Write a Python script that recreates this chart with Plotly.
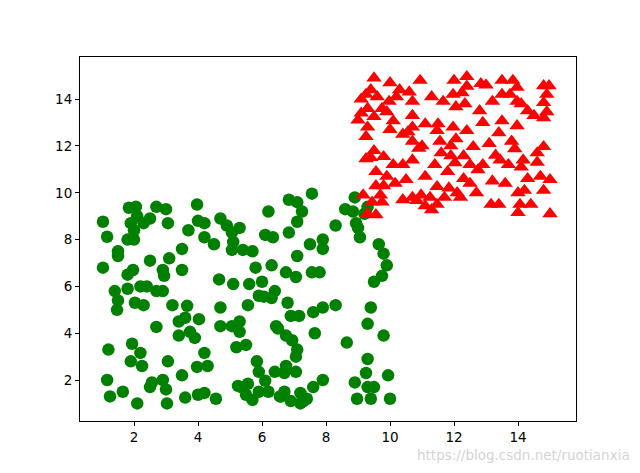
import plotly.graph_objects as go

# Green class (circles)
green_x = [1.03, 1.16, 1.03, 1.5, 1.5, 1.4, 1.5, 1.47, 1.2, 1.16, 1.25, 1.65, 1.8, 1.8, 1.97,
           1.8, 1.9, 1.84, 2.06, 2.1, 2.0, 2.0, 2.3, 2.5, 2.7, 3.0, 3.06, 2.5, 2.9, 2.94,
           3.1, 3.5, 3.5, 3.7, 3.97, 4.0, 4.2, 4.2, 4.5, 4.7, 4.9, 5.06, 5.1, 5.06, 5.3,
           5.4, 5.7, 6.2, 6.1, 6.34, 6.84, 6.84, 7.1, 7.25, 7.56, 7.1, 7.1, 7.5, 7.9, 7.9,
           8.3, 8.6, 8.84, 8.94, 9.0, 9.06, 8.9, 9.2, 9.3, 9.65, 9.8, 9.9, 9.75, 9.5, 9.4,
           9.3, 9.8, 8.65, 9.3, 9.25, 8.9, 9.3, 9.5, 9.94, 10.0, 8.97, 9.4, 8.3, 7.9, 7.65,
           7.6, 7.56, 7.8, 6.75, 7.06, 6.3, 5.8, 6.0, 6.06, 6.3, 6.4, 5.9, 5.56, 5.6, 5.1,
           4.66, 5.06, 5.3, 5.3, 5.2, 6.44, 6.8, 6.9, 7.16, 6.75, 6.94, 7.1, 6.75, 7.06, 6.7,
           7.06, 7.2, 7.2, 7.4, 7.9, 7.6, 6.7, 6.56, 6.1, 5.84, 5.9, 5.9, 5.7, 5.5, 5.4,
           5.56, 4.56, 4.2, 4.0, 4.2, 4.3, 3.97, 3.9, 3.75, 4.03, 3.6, 3.4, 3.66, 3.2, 2.9,
           2.7, 2.4, 2.3, 2.03, 2.7, 3.4, 4.7, 4.7, 3.5, 3.6, 3.06, 2.9, 3.0, 2.56, 2.5,
           2.25, 2.2, 1.94, 1.9, 2.1, 3.03, 5.25, 6.4, 6.6, 6.9, 7.3, 6.2, 5.5, 6.5, 2.2]
green_y = [8.76, 8.12, 6.8, 7.5, 7.3, 5.8, 5.4, 5.0, 3.3, 2.0, 1.3, 1.5, 5.9, 6.5, 6.7,
           8.0, 8.7, 9.36, 9.4, 9.0, 8.4, 8.0, 8.7, 8.9, 9.4, 9.3, 8.7, 7.1, 6.7, 6.45,
           7.2, 6.7, 7.6, 8.4, 9.5, 8.8, 8.7, 8.1, 7.8, 8.9, 8.6, 8.3, 7.9, 7.56, 8.5,
           7.56, 7.5, 9.2, 8.2, 8.1, 8.3, 9.7, 9.6, 9.2, 9.96, 8.76, 7.3, 7.8, 8.0, 7.6,
           8.6, 9.3, 9.2, 8.7, 8.5, 8.1, 9.8, 9.1, 9.4, 7.8, 7.4, 6.9, 6.45, 6.2, 5.1,
           4.4, 3.9, 3.6, 2.9, 2.3, 1.9, 1.7, 1.7, 2.2, 1.2, 1.2, 1.2, 5.2, 5.1, 4.0,
           4.9, 6.6, 6.6, 6.6, 6.4, 6.9, 6.8, 6.2, 5.56, 5.5, 5.8, 5.6, 5.2, 6.1, 6.1,
           6.3, 4.3, 4.5, 4.06, 3.4, 4.3, 5.3, 4.74, 4.74, 3.9, 3.7, 3.3, 2.6, 3.0, 2.3,
           2.35, 1.45, 1.0, 1.2, 2.0, 1.7, 1.5, 1.3, 1.97, 2.8, 2.35, 1.5, 1.15, 1.37, 1.67,
           1.84, 1.2, 1.45, 1.37, 3.16, 2.6, 2.56, 3.8, 4.06, 4.6, 4.66, 4.5, 5.17, 5.2, 5.8,
           5.8, 6.0, 5.2, 5.3, 4.27, 3.9, 5.1, 4.3, 2.2, 1.25, 2.8, 2.0, 1.6, 1.9, 1.7,
           2.6, 3.16, 3.55, 2.8, 1.0, 1.0, 1.75, 2.35, 1.3, 1.1, 1.1, 1.5, 3.5, 4.2, 6.0]

# Red class (triangles)
red_x = [9.5, 10.0, 10.94, 12.4, 12.84, 13.5, 13.84, 13.97, 14.8, 14.97, 9.25, 9.4, 9.1, 9.6,
         9.97, 10.2, 10.6, 10.7, 11.3, 11.66, 11.97, 12.25, 12.4, 12.34, 12.06, 13.2, 13.5, 13.75,
         13.97, 14.1, 14.8, 14.9, 14.8, 9.0, 9.1, 9.3, 9.3, 9.75, 9.9, 9.5, 10.1, 10.7,
         10.7, 10.56, 10.7, 10.4, 10.0, 9.25, 9.5, 9.4, 9.25, 9.8, 10.1, 10.7, 10.4, 11.1,
         11.5, 11.47, 11.56, 11.6, 11.97, 12.06, 11.9, 11.9, 12.03, 12.3, 12.4, 12.6, 12.9, 13.1,
         13.4, 13.3, 13.5, 13.97, 13.8, 13.9, 13.44, 13.7, 14.1, 14.16, 14.6, 14.8, 14.6, 14.7,
         15.0, 14.8, 14.3, 14.2, 14.0, 14.06, 14.0, 14.4, 15.0, 13.16, 13.4, 13.2, 12.75, 12.9,
         12.5, 12.3, 12.2, 12.1, 12.7, 12.5, 11.8, 11.84, 11.7, 11.47, 11.47, 11.25, 11.1, 11.3,
         10.97, 10.84, 10.7, 10.4, 10.16, 9.8, 9.56, 9.7, 9.75, 9.44, 9.16, 9.3, 9.56, 9.9,
         9.56, 11.4, 11.1, 10.5, 13.0, 14.3, 14.5, 12.0, 10.3, 11.0, 13.6, 14.9, 12.8, 10.9]
red_y = [14.9, 14.7, 14.8, 14.96, 14.66, 14.8, 14.8, 14.5, 14.57, 14.57, 14.2, 14.4, 14.0, 14.1,
         13.9, 14.1, 14.3, 13.9, 14.1, 13.9, 14.2, 14.27, 14.55, 13.8, 13.67, 13.9, 14.2, 14.2,
         13.9, 13.8, 13.85, 13.46, 13.2, 13.1, 13.4, 13.6, 12.8, 13.6, 13.46, 13.25, 13.07, 13.3,
         12.8, 12.6, 12.2, 12.5, 12.7, 12.4, 11.8, 11.5, 11.45, 11.54, 11.2, 11.4, 11.2, 12.94,
         12.94, 12.65, 12.2, 11.7, 12.8, 12.3, 12.0, 11.58, 11.28, 11.58, 12.65, 11.97, 13.0, 12.1,
         12.56, 11.6, 13.07, 12.86, 12.2, 11.88, 11.4, 11.2, 11.1, 11.4, 11.7, 11.97, 11.3, 10.7,
         10.56, 10.1, 10.6, 10.1, 10.0, 9.5, 9.15, 9.5, 9.1, 9.5, 9.5, 10.5, 10.98, 11.2,
         10.4, 10.6, 9.8, 10.0, 10.0, 11.2, 10.9, 10.2, 9.8, 10.26, 9.5, 9.8, 9.44, 9.27,
         9.9, 9.66, 9.8, 9.7, 10.4, 10.3, 10.3, 9.9, 9.6, 9.6, 9.9, 9.1, 9.06, 10.7,
         10.9, 11.2, 10.7, 10.56, 14.6, 13.5, 13.3, 14.8, 14.4, 12.0, 10.4, 14.2, 13.5, 11.9]

x_ticks = [2, 4, 6, 8, 10, 12, 14]
y_ticks = [2, 4, 6, 8, 10, 12, 14]

fig = go.Figure()
fig.add_trace(go.Scatter(x=green_x, y=green_y, mode="markers",
                         marker=dict(symbol="circle", size=12.5, color="green"),
                         showlegend=False))
fig.add_trace(go.Scatter(x=red_x, y=red_y, mode="markers",
                         marker=dict(symbol="triangle-up", size=13.5, color="red"),
                         showlegend=False))

axis_common = dict(showline=True, linecolor="black", linewidth=1, mirror=True,
                   ticks="outside", ticklen=4, tickcolor="black", showgrid=False,
                   zeroline=False, tickfont=dict(family="DejaVu Sans", size=13.5, color="black"))
fig.update_xaxes(range=[0.3125, 15.8125], tickvals=x_ticks, ticktext=[str(v) for v in x_ticks],
                 **axis_common)
fig.update_yaxes(range=[0.25, 15.8], tickvals=y_ticks, ticktext=[str(v) for v in y_ticks],
                 **axis_common)

fig.add_annotation(text="https://blog.csdn.net/ruotianxia", xref="paper", yref="paper",
                   x=1.113, y=-0.122, xanchor="right", yanchor="bottom", showarrow=False,
                   font=dict(family="DejaVu Sans", size=13.5, color="#d4d4d4"))

fig.update_layout(width=632, height=465, margin=dict(l=72, r=64, t=49, b=52),
                  plot_bgcolor="white", paper_bgcolor="white")

fig.write_html("out.html")
